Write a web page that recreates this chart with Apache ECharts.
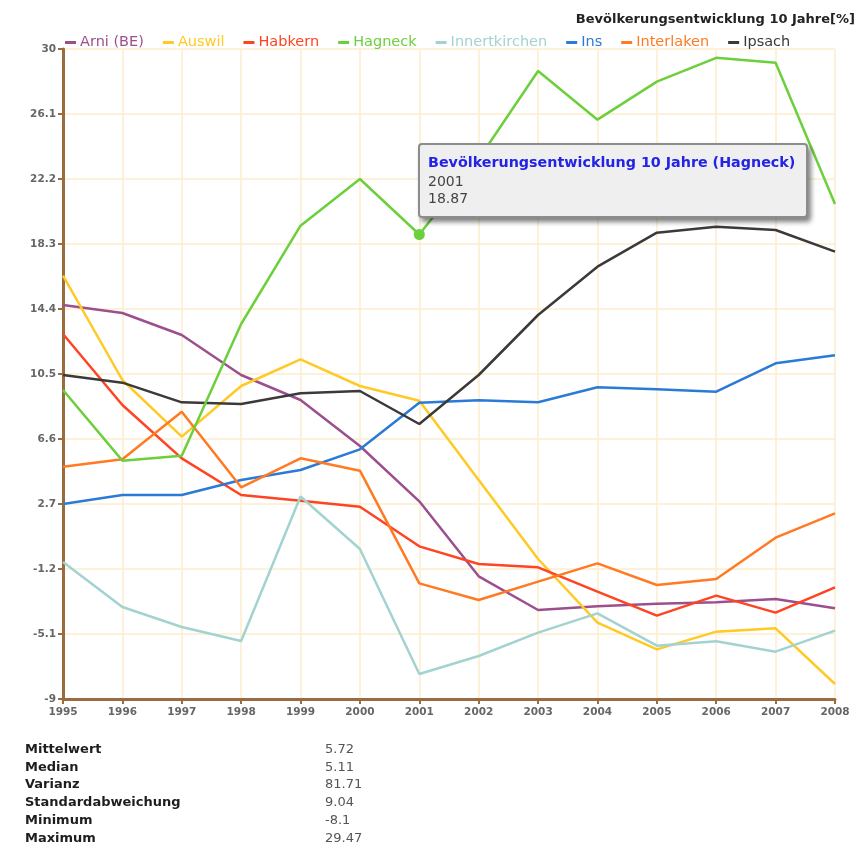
<!DOCTYPE html>
<html>
<head>
<meta charset="utf-8">
<script src="https://cdn.jsdelivr.net/npm/echarts@6/dist/echarts.min.js"></script>
<style>
html,body{margin:0;padding:0;background:#fff;}
#chart{width:868px;height:847px;position:relative;}
</style>
</head>
<body>
<div id="chart"></div>
<script>
const chartTitle = 'Bevölkerungsentwicklung 10 Jahre[%]';
const years = ['1995','1996','1997','1998','1999','2000','2001','2002','2003','2004','2005','2006','2007','2008'];
const seriesNames = ['Arni (BE)','Auswil','Habkern','Hagneck','Innertkirchen','Ins','Interlaken','Ipsach'];
const seriesColors = ['#9c4f8e','#ffc926','#ff4422','#6ccf3c','#a3d3d1','#2a7bd8','#ff7a22','#3a3a3a'];
const arni = [14.64, 14.16, 12.84, 10.44, 8.94, 6.18, 2.86, -1.64, -3.66, -3.44, -3.28, -3.2, -3.0, -3.56];
const auswil = [16.4, 10.14, 6.74, 9.78, 11.38, 9.78, 8.9, 4.14, -0.6, -4.42, -6.02, -4.96, -4.76, -8.1];
const habkern = [12.9, 8.64, 5.44, 3.24, 2.9, 2.54, 0.16, -0.9, -1.1, -2.56, -4.0, -2.8, -3.82, -2.3];
const hagneck = [9.54, 5.3, 5.6, 13.5, 19.4, 22.2, 18.87, 23.4, 28.68, 25.76, 28.04, 29.47, 29.18, 20.7];
const innertkirchen = [-0.78, -3.48, -4.68, -5.52, 3.15, 0.0, -7.5, -6.42, -5.02, -3.86, -5.8, -5.54, -6.16, -4.9];
const ins = [2.7, 3.24, 3.24, 4.14, 4.74, 5.98, 8.78, 8.92, 8.8, 9.7, 9.58, 9.44, 11.14, 11.62];
const interlaken = [4.94, 5.38, 8.24, 3.7, 5.44, 4.7, -2.06, -3.06, -1.96, -0.86, -2.16, -1.8, 0.68, 2.14];
const ipsach = [10.44, 9.98, 8.8, 8.7, 9.34, 9.48, 7.5, 10.44, 14.04, 16.94, 18.98, 19.34, 19.14, 17.84];
const yMin = -9, yMax = 30, yStep = 3.9;
const statsLabels = ['Mittelwert','Median','Varianz','Standardabweichung','Minimum','Maximum'];
const statsValues = ['5.72','5.11','81.71','9.04','-8.1','29.47'];
const tipSeries = 3, tipIndex = 6;

const allData = [arni, auswil, habkern, hagneck, innertkirchen, ins, interlaken, ipsach];
const FONT = '"DejaVu Sans", Verdana, sans-serif';
const FONT_CSS = "'DejaVu Sans', Verdana, sans-serif";
const brown = '#9a6b3e';

const series = seriesNames.map((n, i) => {
  const isTip = i === tipSeries;
  return {
    name: n, type: 'line', data: allData[i],
    showSymbol: isTip, symbol: 'circle',
    symbolSize: isTip ? (v, p) => (p.dataIndex === tipIndex ? 11 : 0) : 0,
    lineStyle: {width: 2.5, color: seriesColors[i]},
    itemStyle: {color: seriesColors[i]},
    emphasis: {disabled: true},
    animation: false, z: isTip ? 4 : 3
  };
});

const graphics = [];
statsLabels.forEach((l, i) => {
  graphics.push({type: 'text', left: 25, top: 743 + i * 17.8,
    style: {text: l, font: 'bold 13px ' + FONT, fill: '#1e1e1e'}});
  graphics.push({type: 'text', left: 325, top: 743 + i * 17.8,
    style: {text: statsValues[i], font: '13px ' + FONT, fill: '#555'}});
});

const chart = echarts.init(document.getElementById('chart'), null, {renderer: 'canvas'});
chart.setOption({
  animation: false,
  backgroundColor: '#fff',
  title: {text: chartTitle, right: 8, top: 8,
    textStyle: {fontFamily: FONT, fontSize: 13, fontWeight: 'bold', color: '#222'}},
  legend: {
    left: 60, top: 30, itemGap: 19, itemWidth: 11, itemHeight: 3, icon: 'rect',
    data: seriesNames.map((n, i) => ({name: n, textStyle: {color: seriesColors[i]}})),
    textStyle: {fontFamily: FONT, fontSize: 14.5, padding: [0, 0, 0, -1]}
  },
  grid: {left: 63, right: 33, top: 49, bottom: 148, containLabel: false},
  tooltip: {
    trigger: 'item', triggerOn: 'none', alwaysShowContent: true, transitionDuration: 0,
    position: [418, 143],
    backgroundColor: '#efefef', borderColor: '#8c8c8c', borderWidth: 2, borderRadius: 4,
    padding: [8, 8, 9, 8],
    extraCssText: 'box-shadow:3px 4px 5px rgba(0,0,0,0.5);width:370px;line-height:17px;',
    formatter: p => '<div style="font:bold 14.3px ' + FONT_CSS + ';color:#2323e6;line-height:18px;margin-bottom:2px">Bevölkerungsentwicklung 10 Jahre (' + p.seriesName + ')</div>' +
      '<div style="font:14px ' + FONT_CSS + ';color:#444;line-height:17px">' + p.name + '<br>' + p.value + '</div>'
  },
  xAxis: {
    type: 'category', data: years, boundaryGap: false,
    axisLine: {onZero: false, lineStyle: {color: brown, width: 3}},
    axisTick: {show: true, length: 5, lineStyle: {color: brown, width: 2}},
    axisLabel: {fontFamily: FONT, fontSize: 10.5, fontWeight: 'bold', color: '#666', margin: 8},
    splitLine: {show: true, lineStyle: {color: '#fcedcc', width: 1.5}}
  },
  yAxis: {
    type: 'value', min: yMin, max: yMax, interval: yStep,
    axisLine: {show: true, onZero: false, lineStyle: {color: brown, width: 3}},
    axisTick: {show: true, length: 5, lineStyle: {color: brown, width: 2}},
    axisLabel: {fontFamily: FONT, fontSize: 10.5, fontWeight: 'bold', color: '#666', margin: 7,
      formatter: v => String(parseFloat(v.toFixed(1)))},
    splitLine: {show: true, lineStyle: {color: '#fcedcc', width: 1.5}}
  },
  series: series,
  graphic: graphics
});
chart.dispatchAction({type: 'showTip', seriesIndex: tipSeries, dataIndex: tipIndex});
</script>
</body>
</html>
